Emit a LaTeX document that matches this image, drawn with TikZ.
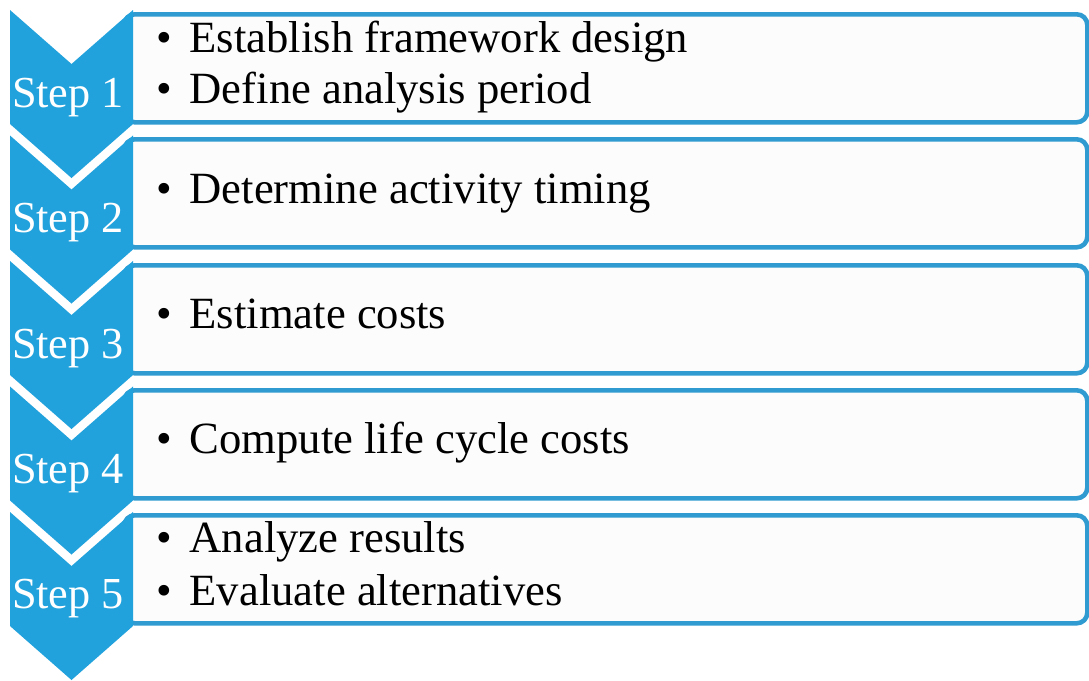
\documentclass[tikz,border=0pt]{standalone}
\usepackage{fontspec}
\setmainfont{Liberation Serif}

\definecolor{chevblue}{HTML}{22A2DC}
\definecolor{boxblue}{HTML}{2F9BD0}

\tikzset{
  stepbox/.style={draw=boxblue, line width=1.3pt, fill=black!1, rounded corners=3pt,
    minimum width=9.63cm, minimum height=1.08cm, inner sep=0pt, anchor=north west},
  chev/.style={fill=chevblue},
  steplabel/.style={text=white, anchor=base, inner sep=0pt, font=\fontsize{12.6}{15}\selectfont},
  act/.style={anchor=base west, inner sep=0pt, font=\fontsize{12.7}{15}\selectfont}
}
\newcommand{\bitem}[1]{\makebox[0.33cm][l]{\textbullet}#1}

\begin{document}
\begin{tikzpicture}
    \useasboundingbox (0,0) rectangle (10.89,6.80);

    % activity boxes
    \node[stepbox] (box1) at (1.22,6.68) {};
    \node[stepbox] (box2) at (1.22,5.43) {};
    \node[stepbox] (box3) at (1.22,4.17) {};
    \node[stepbox] (box4) at (1.22,2.92) {};
    \node[stepbox] (box5) at (1.22,1.67) {};

    % chevrons down the left side
    \fill[chev] (0.10,6.70) -- (0.715,6.16) -- (1.33,6.70) -- (1.33,5.56) -- (0.715,5.02) -- (0.10,5.56) -- cycle;
    \fill[chev] (0.10,5.445) -- (0.715,4.905) -- (1.33,5.445) -- (1.33,4.305) -- (0.715,3.765) -- (0.10,4.305) -- cycle;
    \fill[chev] (0.10,4.19) -- (0.715,3.65) -- (1.33,4.19) -- (1.33,3.05) -- (0.715,2.51) -- (0.10,3.05) -- cycle;
    \fill[chev] (0.10,2.935) -- (0.715,2.395) -- (1.33,2.935) -- (1.33,1.795) -- (0.715,1.255) -- (0.10,1.795) -- cycle;
    \fill[chev] (0.10,1.68) -- (0.715,1.14) -- (1.33,1.68) -- (1.33,0.54) -- (0.715,0.00) -- (0.10,0.54) -- cycle;

    % step labels
    \node[steplabel] (lab1) at (0.68,5.73) {Step 1};
    \node[steplabel] (lab2) at (0.68,4.48) {Step 2};
    \node[steplabel] (lab3) at (0.68,3.22) {Step 3};
    \node[steplabel] (lab4) at (0.68,1.97) {Step 4};
    \node[steplabel] (lab5) at (0.68,0.72) {Step 5};

    % activities
    \node[act] (act1a) at (1.56,6.28) {\bitem{Establish framework design}};
    \node[act] (act1b) at (1.56,5.77) {\bitem{Define analysis period}};
    \node[act] (act2) at (1.56,4.77) {\bitem{Determine activity timing}};
    \node[act] (act3) at (1.56,3.52) {\bitem{Estimate costs}};
    \node[act] (act4) at (1.56,2.27) {\bitem{Compute life cycle costs}};
    \node[act] (act5a) at (1.56,1.28) {\bitem{Analyze results}};
    \node[act] (act5b) at (1.56,0.75) {\bitem{Evaluate alternatives}};
\end{tikzpicture}
\end{document}
